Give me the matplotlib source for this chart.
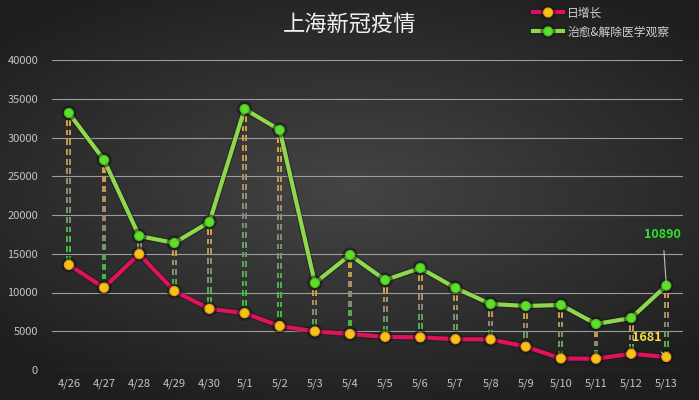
import numpy as np
import matplotlib.pyplot as plt
import matplotlib.patheffects as pe
from matplotlib.collections import LineCollection
from matplotlib.colors import to_rgb

plt.rcParams['font.family'] = ['Noto Sans CJK SC', 'DejaVu Sans']

dates = ['4/26', '4/27', '4/28', '4/29', '4/30', '5/1', '5/2', '5/3', '5/4',
         '5/5', '5/6', '5/7', '5/8', '5/9', '5/10', '5/11', '5/12', '5/13']
daily_new = [13562, 10622, 14968, 10181, 7893, 7333, 5669, 4982, 4651,
             4269, 4214, 3975, 3947, 3014, 1487, 1449, 2096, 1681]
recovered = [33160, 27100, 17290, 16390, 19100, 33680, 30970, 11230, 14840,
             11610, 13160, 10580, 8520, 8260, 8390, 5940, 6710, 10890]

fig = plt.figure(figsize=(6.99, 4.0), dpi=100)

# dark background with a lighter centre
bg = fig.add_axes([0, 0, 1, 1], zorder=-10)
yy, xx = np.mgrid[-1:1:200j, -1:1:350j]
r = np.sqrt((xx * 0.85) ** 2 + (yy * 1.0 + 0.05) ** 2)
shade = np.clip(0.27 - 0.13 * r, 0.12, 0.27)
bg.imshow(np.dstack([shade] * 3), aspect='auto', extent=[0, 1, 0, 1])
bg.axis('off')

ax = fig.add_axes([0.0744, 0.075, 0.903, 0.775])
ax.set_facecolor('none')
x = np.arange(len(dates))

# drop lines: short double dashes, orange at the top fading to green at the bottom
c_top = np.array(to_rgb('#e8a838'))
c_mid = np.array(to_rgb('#8a8a80'))
c_bot = np.array(to_rgb('#2ccc2c'))
period, dash = 1250, 750
for xi, lo, hi in zip(x, daily_new, recovered):
    starts = np.arange(hi - 900, lo + 400, -period)
    segs, cols = [], []
    for k, y0 in enumerate(starts):
        t = (hi - y0) / max(hi - lo, 1)
        if t < 0.5:
            c = c_top + (c_mid - c_top) * (t / 0.5)
        else:
            c = c_mid + (c_bot - c_mid) * min((t - 0.5) / 0.5, 1)
        y1 = max(y0 - dash, lo + 300)
        for dx in (-0.04, 0.04):
            segs.append([(xi + dx, y0), (xi + dx, y1)])
            cols.append(c)
    ax.add_collection(LineCollection(segs, colors=cols, linewidths=1.4, zorder=2))

shadow = [pe.Stroke(linewidth=4.5, foreground='#141414', alpha=0.5), pe.Normal()]
ax.plot(x, recovered, color='#8ed84e', lw=3, marker='o', ms=6.5,
        markerfacecolor='#5ee02a', markeredgecolor='#44c020', mew=0.8,
        path_effects=shadow, zorder=4, label='治愈&解除医学观察')
ax.plot(x, daily_new, color='#e0125e', lw=3, marker='o', ms=6.5,
        markerfacecolor='#f6c21a', markeredgecolor='#eaa010', mew=0.8,
        path_effects=shadow, zorder=5, label='日增长')

ax.annotate(f'{recovered[-1]}', xy=(x[-1], recovered[-1]),
            xytext=(x[-1] - 0.1, 17500), color='#2ee02e', fontsize=9,
            fontweight='bold', ha='center', va='center',
            arrowprops=dict(arrowstyle='-', color='#c0c0c0', lw=0.8,
                            shrinkA=5, shrinkB=3), zorder=6)
ax.annotate(f'{daily_new[-1]}', xy=(x[-1], daily_new[-1]),
            xytext=(x[-1] - 0.55, 4150), color='#f0e040', fontsize=9,
            fontweight='bold', ha='center', va='center',
            arrowprops=dict(arrowstyle='-', color='#c0c0c0', lw=0.8,
                            shrinkA=5, shrinkB=3), zorder=6)

ax.set_xlim(-0.48, 17.48)
ax.set_ylim(0, 40000)
ax.set_xticks(x)
ax.set_xticklabels(dates)
ax.set_yticks(np.arange(0, 40001, 5000))
ax.grid(axis='y', color='#9c9c9c', lw=0.8)
ax.set_axisbelow(True)
for s in ax.spines.values():
    s.set_visible(False)
ax.tick_params(length=0, colors='#c4c4c4', labelsize=8, pad=6)
ax.tick_params(axis='y', pad=10)

fig.text(0.5, 0.938, '上海新冠疫情', color='#f0f0f0', fontsize=16,
         ha='center', va='center')

leg = fig.legend(handles=ax.lines[::-1], loc='upper left',
                 bbox_to_anchor=(0.747, 1.01), frameon=False, fontsize=8.5,
                 labelcolor='#d0d0d0', handlelength=2.6, labelspacing=0.5,
                 handletextpad=0.3)

fig.savefig('out.png', dpi=100)
